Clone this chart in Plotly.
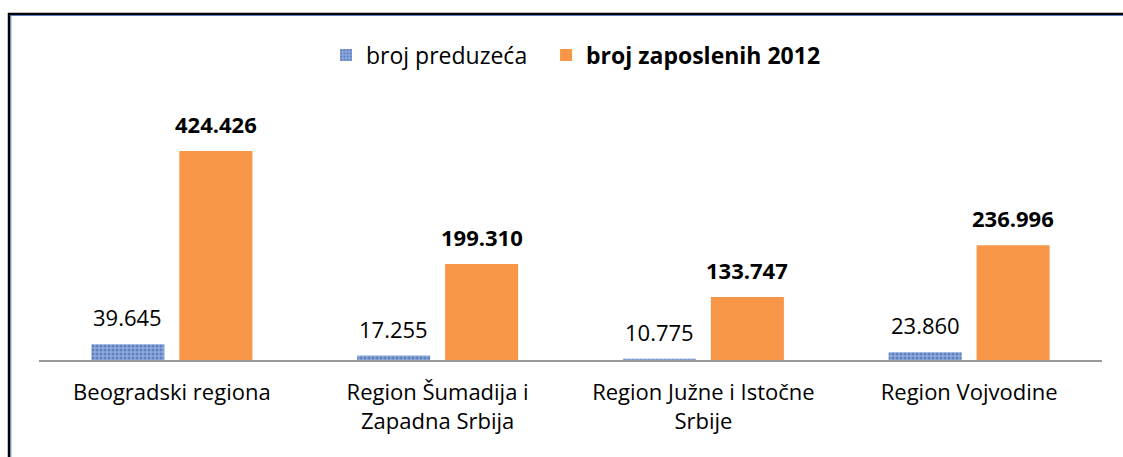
import plotly.graph_objects as go

categories = [
    "Beogradski regiona",
    "Region Šumadija i<br>Zapadna Srbija",
    "Region Južne i Istočne<br>Srbije",
    "Region Vojvodine",
]
broj_preduzeca = [39645, 17255, 10775, 23860]
broj_zaposlenih = [424426, 199310, 133747, 236996]

FONT = "Open Sans"
BLUE = "#6d8fcb"
ORANGE = "#f79646"


def fmt(v):
    return f"{v:,}".replace(",", ".")


fig = go.Figure()
fig.add_trace(go.Bar(
    x=categories, y=broj_preduzeca, name="broj preduzeća", legend="legend",
    marker=dict(color=BLUE, line=dict(width=0),
                pattern=dict(shape=".", fgcolor="#2f57a3", bgcolor="#8eaadb", size=4, solidity=0.45)),
))
fig.add_trace(go.Bar(
    x=categories, y=broj_zaposlenih, name="<b>broj zaposlenih 2012</b>", legend="legend2",
    marker=dict(color=ORANGE, line=dict(width=0)),
))

annotations = []
for i, c in enumerate(categories):
    annotations.append(dict(
        x=c, y=broj_preduzeca[i], xref="x", yref="y", xshift=-44,
        text=fmt(broj_preduzeca[i]), showarrow=False, yanchor="bottom", yshift=10,
        font=dict(family=FONT, size=22, color="#000000"),
    ))
    annotations.append(dict(
        x=c, y=broj_zaposlenih[i], xref="x", yref="y", xshift=44,
        text="<b>" + fmt(broj_zaposlenih[i]) + "</b>", showarrow=False, yanchor="bottom", yshift=10,
        font=dict(family=FONT, size=22, color="#000000"),
    ))

# outer frame of the chart (black with a thin blue inner line)
shapes = [
    dict(type="rect", xref="paper", yref="paper", x0=-0.0282, x1=1.2, y0=-1.0, y1=1.3308,
         line=dict(color="#000000", width=2.5), layer="below"),
    dict(type="rect", xref="paper", yref="paper", x0=-0.0265, x1=1.2, y0=-1.0, y1=1.3250,
         line=dict(color="#4f81bd", width=1), layer="below"),
]

legend_style = dict(orientation="h", xanchor="left", y=1.173, yanchor="middle",
                    font=dict(family=FONT, size=23, color="#000000"),
                    itemwidth=30, bgcolor="rgba(0,0,0,0)")

fig.update_layout(
    width=1123, height=457,
    margin=dict(l=39, r=21, t=100, b=97, autoexpand=False),
    paper_bgcolor="#ffffff", plot_bgcolor="#ffffff",
    barmode="group", bargap=0.338, bargroupgap=0.17,
    showlegend=True,
    legend=dict(x=0.270, **legend_style),
    legend2=dict(x=0.477, **legend_style),
    xaxis=dict(showline=True, linecolor="#9a9a9a", linewidth=2, ticks="",
               ticklabelstandoff=12,
               tickfont=dict(family=FONT, size=22, color="#000000"), showgrid=False),
    yaxis=dict(range=[8340, 525960], visible=False, showgrid=False, zeroline=False),
    annotations=annotations,
    shapes=shapes,
)

fig.write_html("out.html")
